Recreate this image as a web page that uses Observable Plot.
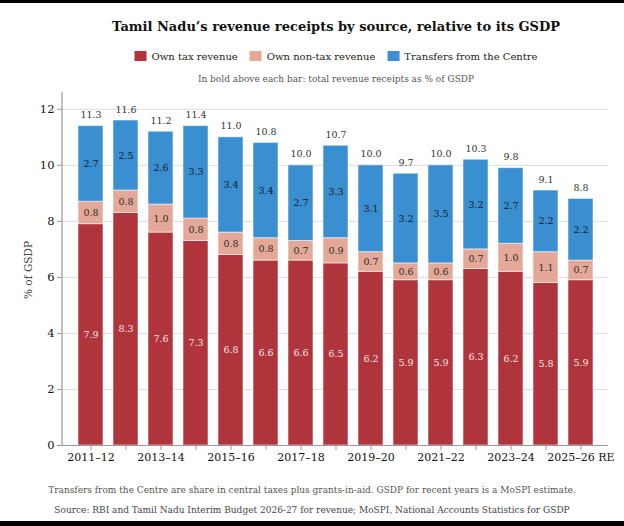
<!DOCTYPE html>
<html>
<head>
<meta charset="utf-8">
<script src="https://cdn.jsdelivr.net/npm/d3@7"></script>
<script src="https://cdn.jsdelivr.net/npm/@observablehq/plot@0.6"></script>
<style>
  html, body { margin: 0; padding: 0; background: #fff; }
  body { position: relative; width: 624px; height: 526px; overflow: hidden; font-family: "DejaVu Serif", serif; }
  .bar { position: absolute; left: 0; width: 624px; background: #000; }
  .t { position: absolute; white-space: nowrap; transform: translateX(-50%); }
  #title { top: 18px; left: 336px; font-size: 13px; font-weight: bold; color: #111; line-height: 18px; }
  #legend { top: 50px; left: 336px; font-size: 10px; color: #222; line-height: 14px; display: flex; gap: 12px; }
  #legend span.sw { display: inline-block; width: 12px; height: 10px; margin-right: 5px; vertical-align: -1px; }
  #sub { top: 72px; left: 336px; font-size: 9px; color: #555; line-height: 14px; }
  #foot { top: 483px; left: 312px; font-size: 9px; color: #555; line-height: 14px; }
  #src { top: 503px; left: 312px; font-size: 9px; color: #444; line-height: 14px; }
  #ylab { position: absolute; left: 28px; top: 270px; transform: translate(-50%, -50%) rotate(-90deg); font-size: 10.5px; color: #444; white-space: nowrap; }
  #chart { position: absolute; left: 0; top: 88px; }
</style>
</head>
<body>
<div class="bar" style="top:0;height:3px"></div>
<div class="bar" style="top:521px;height:5px"></div>
<div id="title" class="t">Tamil Nadu’s revenue receipts by source, relative to its GSDP</div>
<div id="legend" class="t"></div>
<div id="sub" class="t">In bold above each bar: total revenue receipts as % of GSDP</div>
<div id="ylab">% of GSDP</div>
<div id="chart"></div>
<div id="foot" class="t">Transfers from the Centre are share in central taxes plus grants-in-aid. GSDP for recent years is a MoSPI estimate.</div>
<div id="src" class="t">Source: RBI and Tamil Nadu Interim Budget 2026-27 for revenue; MoSPI, National Accounts Statistics for GSDP</div>
<script>
const years = ["2011–12","2012–13","2013–14","2014–15","2015–16","2016–17","2017–18","2018–19","2019–20","2020–21","2021–22","2022–23","2023–24","2024–25","2025–26 RE"];
const ownTax    = [7.9, 8.3, 7.6, 7.3, 6.8, 6.6, 6.6, 6.5, 6.2, 5.9, 5.9, 6.3, 6.2, 5.8, 5.9];
const nonTax    = [0.8, 0.8, 1.0, 0.8, 0.8, 0.8, 0.7, 0.9, 0.7, 0.6, 0.6, 0.7, 1.0, 1.1, 0.7];
const transfers = [2.7, 2.5, 2.6, 3.3, 3.4, 3.4, 2.7, 3.3, 3.1, 3.2, 3.5, 3.2, 2.7, 2.2, 2.2];
const totals    = [11.3, 11.6, 11.2, 11.4, 11.0, 10.8, 10.0, 10.7, 10.0, 9.7, 10.0, 10.3, 9.8, 9.1, 8.8];
const seriesNames = ["Own tax revenue", "Own non-tax revenue", "Transfers from the Centre"];
const seriesColors = ["#b0343c", "#e4a898", "#3a8fd1"];
const labelColors = ["#f6e4e4", "#2a2a2a", "#151a24"];
const yTicks = [0, 2, 4, 6, 8, 10, 12];

const rows = [];
years.forEach((yr, i) => {
  [ownTax[i], nonTax[i], transfers[i]].forEach((v, s) => rows.push({year: yr, series: seriesNames[s], value: v, s}));
});
const tops = years.map((yr, i) => ({year: yr, top: ownTax[i] + nonTax[i] + transfers[i], total: totals[i]}));

// legend
const lg = document.getElementById("legend");
seriesNames.forEach((n, i) => {
  const it = document.createElement("div");
  it.innerHTML = `<span class="sw" style="background:${seriesColors[i]}"></span>${n}`;
  lg.appendChild(it);
});

const plot = Plot.plot({
  width: 624,
  height: 387,
  marginLeft: 62,
  marginRight: 16,
  marginTop: 4,
  marginBottom: 30,
  style: {fontFamily: "DejaVu Serif", background: "transparent"},
  x: {domain: years, padding: 0.3, label: null},
  y: {domain: [0, 12.6], label: null},
  color: {domain: seriesNames, range: seriesColors},
  marks: [
    Plot.gridY(yTicks, {stroke: "#dcdcdc", strokeOpacity: 1, strokeWidth: 1}),
    Plot.barY(rows, {x: "year", y: "value", fill: "series", stroke: "#fff", strokeOpacity: 0.55, strokeWidth: 1}),
    Plot.text(rows, Plot.stackY({x: "year", y: "value", text: d => d.value.toFixed(1), fill: d => labelColors[d.s], fontSize: 9.5})),
    Plot.text(tops, {x: "year", y: "top", text: d => d.total.toFixed(1), dy: -11, fill: "#333", fontSize: 9.5}),
    Plot.ruleY([0], {stroke: "#999", strokeWidth: 1.2}),
    Plot.axisX({tickSize: 5, tickPadding: 3, fontSize: 11, stroke: "#999", color: "#111", tickFormat: (d, i) => (i % 2 === 0 ? d : ""), label: null}),
    Plot.axisY({ticks: yTicks, tickSize: 5, tickPadding: 3, fontSize: 11.5, color: "#111", stroke: "#999", label: null})
  ]
});
document.getElementById("chart").appendChild(plot);
// y axis line
const ys = plot.scale("y");
d3.select(plot).append("line")
  .attr("x1", 62).attr("x2", 62)
  .attr("y1", ys.range[1]).attr("y2", ys.range[0])
  .attr("stroke", "#999").attr("stroke-width", 1.2);
</script>
</body>
</html>
